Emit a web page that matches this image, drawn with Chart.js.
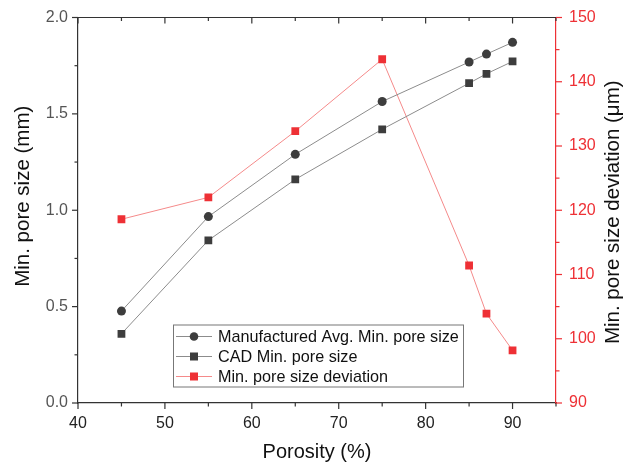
<!DOCTYPE html>
<html lang="en">
<head>
<meta charset="UTF-8">
<title>Min. pore size vs porosity</title>
<script src="https://cdn.jsdelivr.net/npm/chart.js"></script>
<style>
  html, body { margin: 0; padding: 0; background: #fff; }
</style>
</head>
<body>
<canvas id="chart" width="631" height="467"></canvas>
<script>
  // data
  const porosity = [45, 55, 65, 75, 85, 87, 90];
  const manufacturedAvg = [0.477, 0.967, 1.29, 1.564, 1.769, 1.81, 1.871];
  const cadMin = [0.359, 0.844, 1.16, 1.42, 1.659, 1.708, 1.772];
  const deviation = [118.6, 122.0, 132.3, 143.5, 111.4, 103.9, 98.2];
  const seriesNames = ['Manufactured Avg. Min. pore size', 'CAD Min. pore size', 'Min. pore size deviation'];
  const yTitleLeft = 'Min. pore size (mm)';
  const yTitleRight = 'Min. pore size deviation (μm)';

  const DARK = '#3d3d3d';
  const GREY_LINE = '#8c8c8c';
  const RED = '#ee3035';
  const RED_LINE = '#f58a8a';
  const FONT = 'Liberation Sans, Arial, sans-serif';

  const pts = (ys) => porosity.map((x, i) => ({ x: x, y: ys[i] }));

  // fixed box sizes, no extra label padding
  const fixSize = (w, h) => (s) => {
    if (w !== null) s.width = w;
    if (h !== null) s.height = h;
    s.paddingTop = 0; s.paddingBottom = 0; s.paddingLeft = 0; s.paddingRight = 0;
  };

  // minor/major ticks + top frame (Origin-like)
  const axisTicks = {
    id: 'axisTicks',
    afterDraw(chart) {
      const ctx = chart.ctx;
      const { left, right, top, bottom } = chart.chartArea;
      const sx = chart.scales.x, sy = chart.scales.y, sy1 = chart.scales.y1;
      const seg = (x1, y1, x2, y2) => { ctx.beginPath(); ctx.moveTo(x1, y1); ctx.lineTo(x2, y2); ctx.stroke(); };
      ctx.save();
      ctx.lineWidth = 1.2;
      ctx.strokeStyle = '#333';
      seg(left, top, right, top);
      for (let v = 40; v <= 95; v += 5) {
        const p = sx.getPixelForValue(v);
        const len = v % 10 === 0 ? 6 : 3.5;
        seg(p, bottom, p, bottom + len);
        seg(p, top, p, top + len);
      }
      for (let v = 0; v <= 2.0001; v += 0.25) {
        const p = sy.getPixelForValue(v);
        const len = Math.abs(v * 2 - Math.round(v * 2)) < 1e-6 ? 6 : 3.5;
        seg(left, p, left - len, p);
      }
      ctx.strokeStyle = RED;
      for (let v = 90; v <= 150; v += 5) {
        const p = sy1.getPixelForValue(v);
        const len = v % 10 === 0 ? 6 : 3.5;
        seg(right, p, right + len, p);
      }
      ctx.restore();
    }
  };

  // both y titles read bottom-to-top, as in the original
  const sideTitles = {
    id: 'sideTitles',
    afterDraw(chart) {
      const ctx = chart.ctx;
      const { top, bottom } = chart.chartArea;
      const mid = (top + bottom) / 2;
      ctx.save();
      ctx.font = '20.5px ' + FONT;
      ctx.fillStyle = '#111';
      ctx.textAlign = 'center';
      ctx.textBaseline = 'middle';
      ctx.translate(23, mid - 14);
      ctx.rotate(-Math.PI / 2);
      ctx.fillText(yTitleLeft, 0, 0);
      ctx.restore();
      ctx.save();
      ctx.font = '20.5px ' + FONT;
      ctx.fillStyle = '#111';
      ctx.textAlign = 'center';
      ctx.textBaseline = 'middle';
      ctx.translate(chart.width - 18, mid + 2);
      ctx.rotate(-Math.PI / 2);
      ctx.fillText(yTitleRight, 0, 0);
      ctx.restore();
    }
  };

  // legend box inside the plot area
  const insideLegend = {
    id: 'insideLegend',
    afterDraw(chart) {
      const ctx = chart.ctx;
      const { left, top } = chart.chartArea;
      const bx = left + 95, by = top + 307, bw = 290, bh = 62;
      ctx.save();
      ctx.fillStyle = '#fff';
      ctx.fillRect(bx, by, bw, bh);
      ctx.strokeStyle = '#777';
      ctx.lineWidth = 1;
      ctx.strokeRect(bx + 0.5, by + 0.5, bw, bh);
      ctx.font = '16.2px ' + FONT;
      ctx.textBaseline = 'middle';
      chart.data.datasets.forEach((ds, i) => {
        const cy = by + 12 + i * 20;
        ctx.strokeStyle = ds.borderColor;
        ctx.lineWidth = 1;
        ctx.beginPath(); ctx.moveTo(bx + 3, cy); ctx.lineTo(bx + 39, cy); ctx.stroke();
        ctx.fillStyle = ds.pointBackgroundColor;
        if (ds.pointStyle === 'circle') {
          ctx.beginPath(); ctx.arc(bx + 21, cy, 4.3, 0, Math.PI * 2); ctx.fill();
        } else {
          ctx.fillRect(bx + 17, cy - 4, 8, 8);
        }
        ctx.fillStyle = '#111';
        ctx.fillText(seriesNames[i], bx + 45, cy + 1);
      });
      ctx.restore();
    }
  };

  new Chart(document.getElementById('chart'), {
    type: 'line',
    data: {
      datasets: [
        {
          label: seriesNames[0], data: pts(manufacturedAvg), yAxisID: 'y',
          borderColor: GREY_LINE, borderWidth: 1, pointStyle: 'circle', pointRadius: 4.5,
          pointBackgroundColor: DARK, pointBorderColor: DARK, pointBorderWidth: 0
        },
        {
          label: seriesNames[1], data: pts(cadMin), yAxisID: 'y',
          borderColor: GREY_LINE, borderWidth: 1, pointStyle: 'rect', pointRadius: 5.5,
          pointBackgroundColor: DARK, pointBorderColor: DARK, pointBorderWidth: 0
        },
        {
          label: seriesNames[2], data: pts(deviation), yAxisID: 'y1',
          borderColor: RED_LINE, borderWidth: 1, pointStyle: 'rect', pointRadius: 5.5,
          pointBackgroundColor: RED, pointBorderColor: RED, pointBorderWidth: 0
        }
      ]
    },
    options: {
      responsive: false,
      animation: false,
      devicePixelRatio: 1,
      layout: { autoPadding: false, padding: { top: 17.5, left: 0, right: 0, bottom: 0 } },
      plugins: { legend: { display: false }, tooltip: { enabled: false } },
      scales: {
        x: {
          type: 'linear', min: 40, max: 95,
          grid: { display: false, drawTicks: false },
          border: { display: true, color: '#333', width: 1.2 },
          ticks: { stepSize: 10, includeBounds: false, padding: 11, color: '#222', font: { family: FONT, size: 16 } },
          title: { display: true, text: 'Porosity (%)', color: '#111', font: { family: FONT, size: 20 }, padding: { top: 0, bottom: 3 } },
          afterFit: fixSize(null, 64)
        },
        y: {
          type: 'linear', position: 'left', min: 0, max: 2,
          grid: { display: false, drawTicks: false },
          border: { display: true, color: '#333', width: 1.2 },
          ticks: { stepSize: 0.5, padding: 10, color: '#555', font: { family: FONT, size: 16 }, callback: (v) => v.toFixed(1) },
          title: { display: false },
          afterFit: fixSize(78, null)
        },
        y1: {
          type: 'linear', position: 'right', min: 90, max: 150,
          grid: { display: false, drawTicks: false },
          border: { display: true, color: RED, width: 1.2 },
          ticks: { stepSize: 10, padding: 13, color: RED, font: { family: FONT, size: 16 } },
          title: { display: false },
          afterFit: fixSize(75, null)
        }
      }
    },
    plugins: [axisTicks, sideTitles, insideLegend]
  });
</script>
</body>
</html>
